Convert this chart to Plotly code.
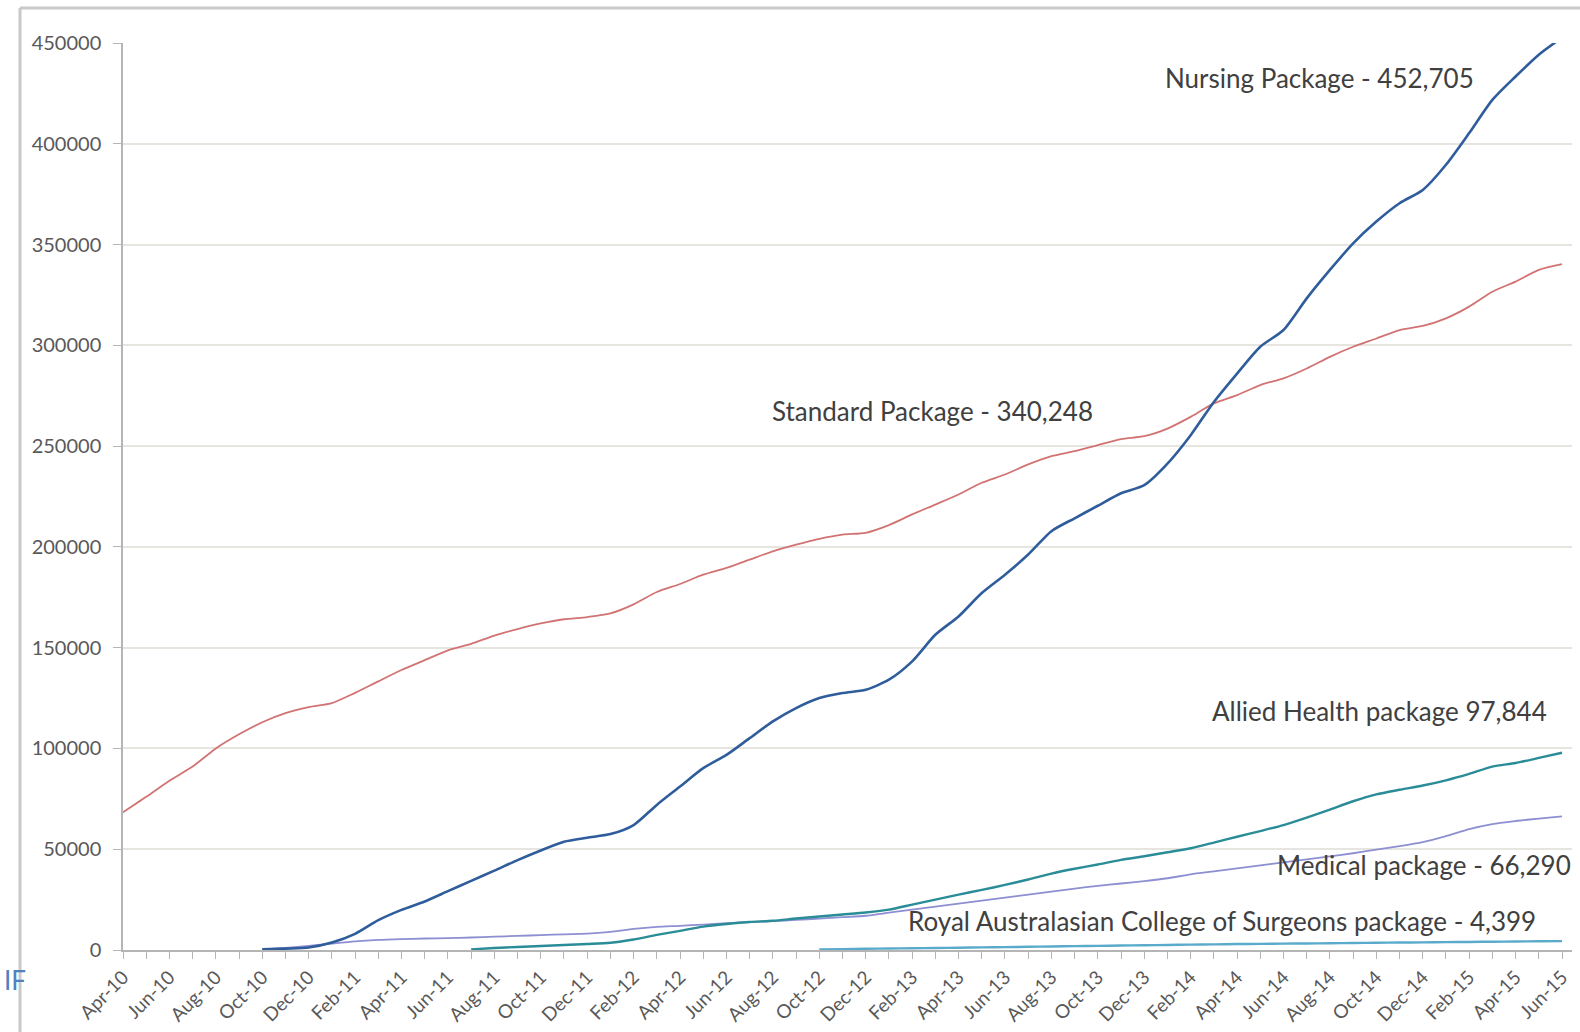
import plotly.graph_objects as go

months = ["Apr-10","May-10","Jun-10","Jul-10","Aug-10","Sep-10","Oct-10","Nov-10","Dec-10",
          "Jan-11","Feb-11","Mar-11","Apr-11","May-11","Jun-11","Jul-11","Aug-11","Sep-11","Oct-11","Nov-11","Dec-11",
          "Jan-12","Feb-12","Mar-12","Apr-12","May-12","Jun-12","Jul-12","Aug-12","Sep-12","Oct-12","Nov-12","Dec-12",
          "Jan-13","Feb-13","Mar-13","Apr-13","May-13","Jun-13","Jul-13","Aug-13","Sep-13","Oct-13","Nov-13","Dec-13",
          "Jan-14","Feb-14","Mar-14","Apr-14","May-14","Jun-14","Jul-14","Aug-14","Sep-14","Oct-14","Nov-14","Dec-14",
          "Jan-15","Feb-15","Mar-15","Apr-15","May-15","Jun-15"]

standard = [68300, 76000, 84000, 91000, 100000, 107000, 113000, 117500, 120500, 122500,
            127600, 133300, 138900, 143800, 148700, 151900, 156000, 159200, 162000, 164100,
            165200, 167000, 171500, 177600, 181600, 186200, 189600, 193700, 197800, 201100,
            204000, 206100, 207000, 210800, 216100, 221000, 226000, 231800, 235900, 240900,
            245000, 247500, 250500, 253500, 254900, 258700, 264500, 271200, 275300, 280300,
            283600, 288500, 294300, 299300, 303400, 307600, 309600, 313400, 319200, 326600,
            331600, 337400, 340248]

nursing = [None, None, None, None, None, None, 300, 700, 1200, 3700,
           8000, 14800, 19900, 24100, 29200, 34300, 39400, 44600, 49400, 53700,
           55700, 57500, 62000, 72000, 81100, 90200, 96800, 105100, 113400, 120000,
           125000, 127500, 129100, 134100, 143200, 156400, 165500, 177100, 186200, 196200,
           207800, 214200, 220400, 226600, 230600, 241300, 255400, 271900, 286000, 299300,
           307600, 323300, 337400, 350600, 361400, 370500, 377100, 389600, 405300, 421800,
           433400, 444200, 452705]

allied = [None]*15 + [300, 1000, 1500, 2000, 2500,
          3000, 3600, 5200, 7500, 9500, 11600, 12900, 13900, 14500, 15600,
          16600, 17600, 18600, 20000, 22500, 25000, 27500, 29800, 32300, 35000,
          37900, 40300, 42400, 44700, 46500, 48500, 50500, 53300, 56200, 59000,
          62000, 65700, 69700, 73800, 77200, 79500, 81600, 84200, 87400, 91000,
          92800, 95300, 97844]

medical = [None]*6 + [300, 1000, 2000, 3200,
           4300, 5000, 5400, 5700, 5900, 6200, 6600, 7000, 7400, 7800,
           8100, 9000, 10500, 11500, 12000, 12600, 13300, 13800, 14300, 14900,
           15600, 16300, 17000, 18500, 20000, 21500, 23000, 24500, 26000, 27500,
           29000, 30500, 31800, 33000, 34200, 35600, 37500, 39000, 40500, 42000,
           43500, 45000, 46500, 48000, 49800, 51500, 53500, 56500, 60000, 62500,
           64000, 65200, 66290]

racs = [None]*30 + [300, 450, 600, 750, 880, 1000, 1150, 1300, 1450, 1600,
        1750, 1900, 2050, 2200, 2350, 2500, 2650, 2800, 2950, 3050,
        3150, 3250, 3350, 3480, 3600, 3700, 3800, 3900, 4000, 4120,
        4230, 4320, 4399]

y_ticks = [0, 50000, 100000, 150000, 200000, 250000, 300000, 350000, 400000, 450000]

labels = ["Nursing Package - 452,705", "Standard Package - 340,248",
          "Allied Health package 97,844", "Medical package - 66,290",
          "Royal Australasian College of Surgeons package - 4,399"]

x_idx = list(range(len(months)))

W, H = 1580, 1032
L, R, T, B = 123, 8, 43, 82
PW, PH = W - L - R, H - T - B


def px(x):
    return (x - L) / PW


def py(y):
    return (H - B - y) / PH


fig = go.Figure()
series = [
    (standard, "#d27373", 1.8),
    (medical, "#8d8fd2", 1.8),
    (allied, "#2a8c97", 2.4),
    (racs, "#5aaacb", 2.4),
    (nursing, "#2f5d9c", 2.6),
]
for vals, col, w in series:
    fig.add_trace(go.Scatter(x=x_idx, y=vals, mode="lines",
                             line=dict(color=col, width=w, shape="spline", smoothing=0.7),
                             connectgaps=False, hoverinfo="skip"))

fig.update_xaxes(range=[0, 62.43], tickmode="array",
                 tickvals=x_idx[::2], ticktext=months[::2], tickangle=-45,
                 tickfont=dict(family="Lato, sans-serif", size=19, color="#595959"),
                 ticks="outside", ticklen=7, tickcolor="#b5b5b5", tickwidth=1.2,
                 minor=dict(dtick=1, tick0=0, ticks="outside", ticklen=7, tickcolor="#b5b5b5", tickwidth=1.2, showgrid=False),
                 showline=True, linecolor="#b5b5b5", linewidth=1.5,
                 showgrid=False, zeroline=False, automargin=False)
fig.update_yaxes(range=[0, 450000], tickmode="array", tickvals=y_ticks,
                 ticktext=[str(v) for v in y_ticks],
                 tickfont=dict(family="Lato, sans-serif", size=20, color="#595959"),
                 ticks="outside", ticklen=8, tickcolor="#b5b5b5", tickwidth=1.2,
                 ticklabelstandoff=8,
                 showline=True, linecolor="#b5b5b5", linewidth=1.5,
                 showgrid=True, gridcolor="#e6e5df", gridwidth=1.5,
                 zeroline=False, automargin=False)

ann_font = dict(family="Lato, sans-serif", size=26, color="#404040")
positions = [(1319, 78), (933, 411), (1379, 711), (1424, 865), (1222, 921)]
for text, (ax, ay) in zip(labels, positions):
    fig.add_annotation(x=px(ax), y=py(ay), xref="paper", yref="paper", text=text,
                       showarrow=False, xanchor="center", yanchor="middle", font=ann_font)

fig.add_annotation(x=px(2), y=py(980), xref="paper", yref="paper", text="IF",
                   showarrow=False, xanchor="left", yanchor="middle",
                   font=dict(family="Lato, sans-serif", size=26, color="#4f81bd"))

frame = dict(color="#c9c9c9", width=3)
fig.add_shape(type="rect", xref="paper", yref="paper", x0=px(20), x1=px(21), y0=py(1040), y1=py(8),
              line=dict(width=0), fillcolor="white", layer="above")
fig.add_shape(type="line", xref="paper", yref="paper", x0=px(20), x1=px(20), y0=py(8), y1=py(1040), line=frame)
fig.add_shape(type="line", xref="paper", yref="paper", x0=px(20), x1=px(1590), y0=py(8), y1=py(8), line=frame)

fig.update_layout(width=W, height=H, margin=dict(l=L, r=R, t=T, b=B),
                  plot_bgcolor="white", paper_bgcolor="white", showlegend=False)

fig.write_html("out.html")
